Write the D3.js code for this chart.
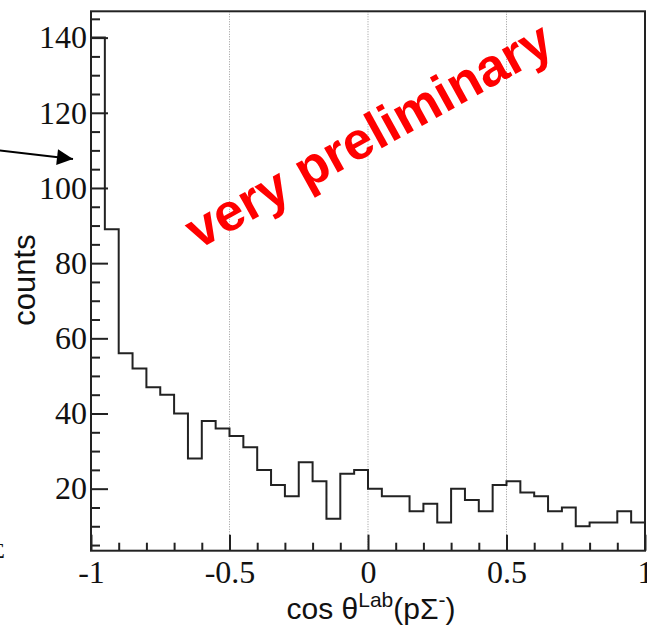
<!DOCTYPE html>
<html>
<head>
<meta charset="utf-8">
<script src="https://cdn.jsdelivr.net/npm/d3@7"></script>
<style>
  body { margin: 0; background: #fff; }
  svg { display: block; }
</style>
</head>
<body>
<div id="chart"><svg width="647" height="628"></svg></div>
<script>
// bin lower edges run from -1 to 0.95 in steps of 0.05
var binEdges = [-1, -0.95, -0.9, -0.85, -0.8, -0.75, -0.7, -0.65, -0.6, -0.55,
	-0.5, -0.45, -0.4, -0.35, -0.3, -0.25, -0.2, -0.15, -0.1, -0.05,
	0, 0.05, 0.1, 0.15, 0.2, 0.25, 0.3, 0.35, 0.4, 0.45,
	0.5, 0.55, 0.6, 0.65, 0.7, 0.75, 0.8, 0.85, 0.9, 0.95, 1];
var counts = [140, 89, 56, 52, 47, 45, 40, 28, 38, 36,
	34, 31, 25, 21, 18, 27, 22, 12, 24, 25,
	20, 18, 18, 14, 16, 11, 20, 17, 14, 21,
	22, 19, 18, 14, 15, 10, 11, 11, 14, 11];
var xTicks = [-1, -0.5, 0, 0.5, 1];
var xMinorTicks = [-0.9, -0.8, -0.7, -0.6, -0.4, -0.3, -0.2, -0.1, 0.1, 0.2, 0.3, 0.4, 0.6, 0.7, 0.8, 0.9];
var yTicks = [20, 40, 60, 80, 100, 120, 140];
var yMinorTicks = [5, 10, 15, 25, 30, 35, 45, 50, 55, 65, 70, 75, 85, 90, 95, 105, 110, 115, 125, 130, 135, 145];
var gridTicks = [-0.5, 0, 0.5];
var xDomain = [-1, 1];
var yDomain = [3.5, 147];

var margin = { top: 11.3, left: 91, bottom: 77.3, right: 2 };
var svg = d3.select('#chart > svg');
var width = 647 - margin.left - margin.right;
var height = 628 - margin.top - margin.bottom;

var xScale = d3.scaleLinear().domain(xDomain).range([0, width]);
var yScale = d3.scaleLinear().domain(yDomain).range([height, 0]);

var g = svg.append('g')
	.attr('transform', 'translate(' + [margin.left, margin.top] + ')');

// dotted grid
g.append('g').selectAll('line')
	.data(gridTicks)
	.enter().append('line')
	.attr('x1', function(d) { return xScale(d) })
	.attr('x2', function(d) { return xScale(d) })
	.attr('y1', 0)
	.attr('y2', height)
	.attr('stroke', '#999')
	.attr('stroke-width', 1)
	.attr('stroke-dasharray', '1,1.5');

// histogram outline
var path = d3.path();
path.moveTo(xScale(binEdges[0]), yScale(yDomain[0]));
counts.forEach(function(c, i) {
	path.lineTo(xScale(binEdges[i]), yScale(c));
	path.lineTo(xScale(binEdges[i + 1]), yScale(c));
});
path.lineTo(xScale(binEdges[binEdges.length - 1]), yScale(yDomain[0]));
g.append('path')
	.attr('d', path.toString())
	.attr('fill', 'none')
	.attr('stroke', '#222')
	.attr('stroke-width', 2);

// axes
function styleAxis(sel) {
	sel.select('.domain').remove();
	sel.selectAll('line').attr('stroke', '#222').attr('stroke-width', 2);
	sel.selectAll('text')
		.attr('fill', '#111')
		.style('font-family', '"Liberation Serif", "Times New Roman", serif')
		.style('font-size', '32px');
}

g.append('g')
	.attr('transform', 'translate(0,' + height + ')')
	.call(d3.axisBottom(xScale).tickValues(xMinorTicks).tickSizeInner(-8).tickSizeOuter(0).tickFormat(''))
	.call(styleAxis);
g.append('g')
	.attr('transform', 'translate(0,' + height + ')')
	.call(d3.axisBottom(xScale).tickValues(xTicks).tickSizeInner(-16).tickSizeOuter(0).tickPadding(10)
		.tickFormat(function(d) { return d === 0 ? '0' : String(d) }))
	.call(styleAxis);

g.append('g')
	.call(d3.axisLeft(yScale).tickValues(yMinorTicks).tickSizeInner(-9).tickSizeOuter(0).tickFormat(''))
	.call(styleAxis);
g.append('g')
	.call(d3.axisLeft(yScale).tickValues(yTicks).tickSizeInner(-17).tickSizeOuter(0).tickPadding(4))
	.call(styleAxis);

// frame
g.append('rect')
	.attr('x', 0)
	.attr('y', 0)
	.attr('width', width)
	.attr('height', height)
	.attr('fill', 'none')
	.attr('stroke', '#222')
	.attr('stroke-width', 2);

// axis titles
svg.append('text')
	.attr('x', 371)
	.attr('y', 619)
	.attr('text-anchor', 'middle')
	.style('font-family', '"Liberation Sans", Arial, sans-serif')
	.style('font-size', '30px')
	.attr('fill', '#111')
	.html('cos \u03B8<tspan dy="-12" font-size="21px">Lab</tspan><tspan dy="12">(p\u03A3</tspan><tspan dy="-12" font-size="21px">-</tspan><tspan dy="12">)</tspan>');

svg.append('text')
	.attr('transform', 'translate(35,280) rotate(-90)')
	.attr('text-anchor', 'middle')
	.style('font-family', '"Liberation Sans", Arial, sans-serif')
	.style('font-size', '31px')
	.attr('fill', '#111')
	.text('counts');

// watermark
svg.append('text')
	.attr('transform', 'translate(198,250) rotate(-29)')
	.style('font-family', '"Liberation Sans", Arial, sans-serif')
	.style('font-weight', 'bold')
	.style('font-size', '53px')
	.attr('fill', '#ff0000')
	.text('very preliminary');

// arrow pointing at the first bin
var defs = svg.append('defs');
defs.append('marker')
	.attr('id', 'head')
	.attr('viewBox', '0 0 10 10')
	.attr('refX', 10)
	.attr('refY', 5)
	.attr('markerWidth', 9)
	.attr('markerHeight', 8)
	.attr('markerUnits', 'strokeWidth')
	.attr('orient', 'auto')
	.append('path')
	.attr('d', 'M0,0L10,5L0,10Z')
	.attr('fill', '#000');
svg.append('line')
	.attr('x1', -5)
	.attr('y1', 150)
	.attr('x2', 73)
	.attr('y2', 159)
	.attr('stroke', '#000')
	.attr('stroke-width', 2)
	.attr('marker-end', 'url(#head)');

// clipped glyph on the left edge
svg.append('text')
	.attr('x', -8)
	.attr('y', 558)
	.style('font-family', '"Liberation Serif", serif')
	.style('font-size', '22px')
	.attr('fill', '#111')
	.text('\u03A3');
</script>
</body>
</html>
